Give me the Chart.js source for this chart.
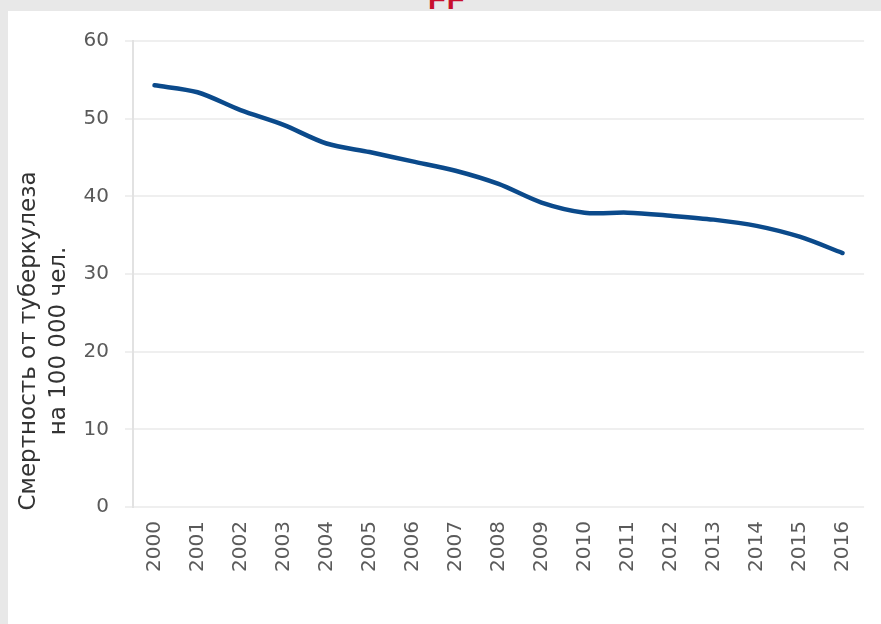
<!DOCTYPE html>
<html>
<head>
<meta charset="utf-8">
<script src="https://cdn.jsdelivr.net/npm/chart.js@4.4.1/dist/chart.umd.min.js"></script>
<style>
    html, body { margin: 0; padding: 0; width: 881px; height: 624px; overflow: hidden; background: #e8e8e8; }
    #cutTitle { position: absolute; left: 428px; top: -17px; font: bold 29px "Liberation Sans", Arial, sans-serif; color: #c8102e; letter-spacing: 1px; }
    #panel { position: absolute; left: 8px; top: 11px; width: 873px; height: 613px; background: #fff; }
    #tbChart { display: block; }
</style>
</head>
<body>
<div id="cutTitle">FF</div>
<div id="panel"><canvas id="tbChart" width="873" height="613"></canvas></div>
<script>
// ========== DATA ==========
const years = ["2000", "2001", "2002", "2003", "2004", "2005", "2006", "2007", "2008",
               "2009", "2010", "2011", "2012", "2013", "2014", "2015", "2016"];
const deathRate = [54.3, 53.4, 51.1, 49.2, 46.8, 45.7, 44.5, 43.3, 41.6,
                   39.2, 37.9, 37.9, 37.5, 37.0, 36.2, 34.8, 32.7];
const yTicks = [0, 10, 20, 30, 40, 50, 60];
const yTitle = ["Смертность от туберкулеза", "на 100 000 чел."];

// ========== Y TITLE PLUGIN ==========
// axis title sits lower than the plot centre, so draw it by hand
const yTitlePlugin = {
    id: "yTitle",
    afterDraw(chart) {
        const ctx = chart.ctx;
        ctx.save();
        ctx.font = "23px 'DejaVu Sans'";
        ctx.fillStyle = "#333";
        ctx.textAlign = "center";
        ctx.textBaseline = "middle";
        yTitle.forEach((line, i) => {
            ctx.save();
            ctx.translate(21 + i * 30, 330);
            ctx.rotate(-Math.PI / 2);
            ctx.fillText(line, 0, 0);
            ctx.restore();
        });
        ctx.restore();
    }
};

// ========== CHART ==========
const ctx = document.getElementById("tbChart").getContext("2d");
new Chart(ctx, {
    type: "line",
    data: {
        labels: years,
        datasets: [
            {
                data: deathRate,
                borderColor: "#0b4a8b",
                borderWidth: 4.5,
                tension: 0.3,
                fill: false,
                pointRadius: 0,
                borderCapStyle: "round"
            }
        ]
    },
    options: {
        responsive: false,
        animation: false,
        devicePixelRatio: 1,
        layout: { padding: { left: 0, right: 15, top: 30, bottom: 0 } },
        plugins: {
            legend: { display: false },
            tooltip: { enabled: false }
        },
        scales: {
            x: {
                offset: true,
                grid: { display: false, drawTicks: false },
                border: { display: false },
                ticks: {
                    minRotation: 90,
                    maxRotation: 90,
                    padding: 14,
                    color: "#5a5a5a",
                    font: { family: "DejaVu Sans", size: 20 }
                },
                afterFit: function (scale) { scale.height = 117; }
            },
            y: {
                min: 0,
                max: 60,
                afterBuildTicks: function (scale) {
                    scale.ticks = yTicks.map(v => ({ value: v }));
                },
                grid: { color: "#efefef", lineWidth: 2, tickLength: 8 },
                border: { color: "#e2e2e2", width: 2 },
                ticks: {
                    padding: 16,
                    color: "#5a5a5a",
                    font: { family: "DejaVu Sans", size: 20 }
                },
                afterFit: function (scale) { scale.width = 125; }
            }
        }
    },
    plugins: [yTitlePlugin]
});
</script>
</body>
</html>
